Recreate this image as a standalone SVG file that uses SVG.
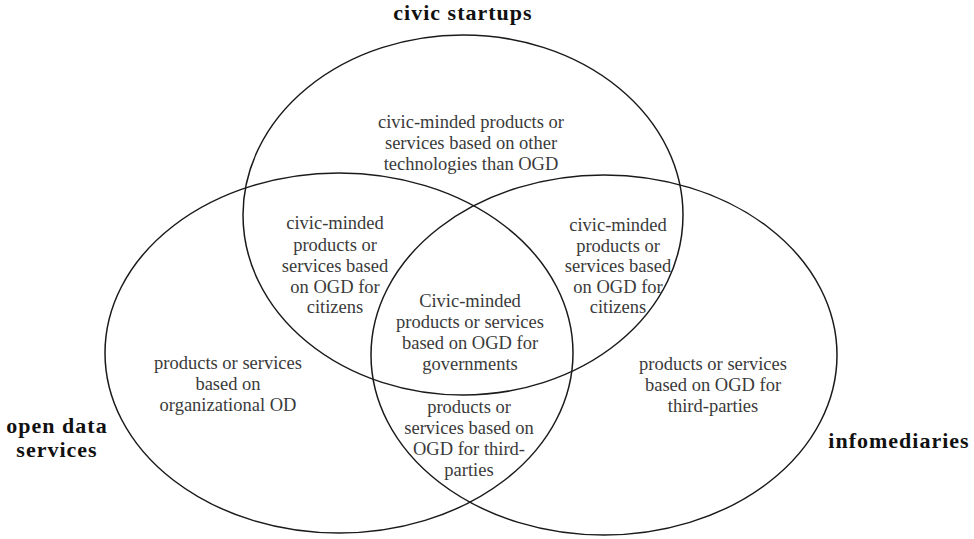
<svg xmlns="http://www.w3.org/2000/svg" width="974" height="539" viewBox="0 0 974 539">
  <style>
    .set { fill: none; stroke: #1a1a1a; stroke-width: 1.5; }
    .lbl { font-family: "Liberation Serif", "Times New Roman", serif; font-size: 18.5px; fill: #3a3a3a; text-anchor: middle; }
    .ttl { font-family: "Liberation Serif", "Times New Roman", serif; font-size: 22px; font-weight: bold; letter-spacing: 1px; fill: #111; text-anchor: middle; }
  </style>
  <rect width="974" height="539" fill="#fff"/>

  <!-- set outlines -->
  <g id="sets">
    <ellipse id="set-civic-startups" class="set" cx="463" cy="215" rx="220" ry="180"/>
    <ellipse id="set-open-data-services" class="set" cx="339" cy="353" rx="234" ry="180"/>
    <ellipse id="set-infomediaries" class="set" cx="604" cy="355" rx="233" ry="180"/>
  </g>

  <!-- set titles -->
  <g id="title-civic-startups"><text class="ttl" x="463" y="20">civic startups</text></g>
  <g id="title-open-data-services">
    <text class="ttl" x="57" y="433">open data</text>
    <text class="ttl" x="57" y="457">services</text>
  </g>
  <g id="title-infomediaries"><text class="ttl" x="899" y="448">infomediaries</text></g>

  <!-- region labels -->
  <g id="region-civic-only">
    <text class="lbl" x="471" y="128">civic-minded  products or</text>
    <text class="lbl" x="471" y="149">services based on other</text>
    <text class="lbl" x="471" y="170">technologies  than OGD</text>
  </g>
  <g id="region-civic-open">
    <text class="lbl" x="335" y="229">civic-minded</text>
    <text class="lbl" x="335" y="251">products or</text>
    <text class="lbl" x="335" y="272">services based</text>
    <text class="lbl" x="335" y="293">on OGD for</text>
    <text class="lbl" x="335" y="313">citizens</text>
  </g>
  <g id="region-civic-info">
    <text class="lbl" x="618" y="231">civic-minded</text>
    <text class="lbl" x="618" y="252">products or</text>
    <text class="lbl" x="618" y="272">services based</text>
    <text class="lbl" x="618" y="293">on OGD for</text>
    <text class="lbl" x="618" y="313">citizens</text>
  </g>
  <g id="region-all">
    <text class="lbl" x="470" y="307">Civic-minded</text>
    <text class="lbl" x="470" y="328">products or services</text>
    <text class="lbl" x="470" y="349">based on OGD for</text>
    <text class="lbl" x="470" y="370">governments</text>
  </g>
  <g id="region-open-info">
    <text class="lbl" x="469" y="413">products or</text>
    <text class="lbl" x="469" y="434">services based on</text>
    <text class="lbl" x="469" y="455">OGD for third-</text>
    <text class="lbl" x="469" y="476">parties</text>
  </g>
  <g id="region-open-only">
    <text class="lbl" x="228" y="369">products or services</text>
    <text class="lbl" x="228" y="390">based on</text>
    <text class="lbl" x="228" y="411">organizational  OD</text>
  </g>
  <g id="region-info-only">
    <text class="lbl" x="713" y="370">products or services</text>
    <text class="lbl" x="713" y="391">based on OGD for</text>
    <text class="lbl" x="713" y="412">third-parties</text>
  </g>
</svg>
